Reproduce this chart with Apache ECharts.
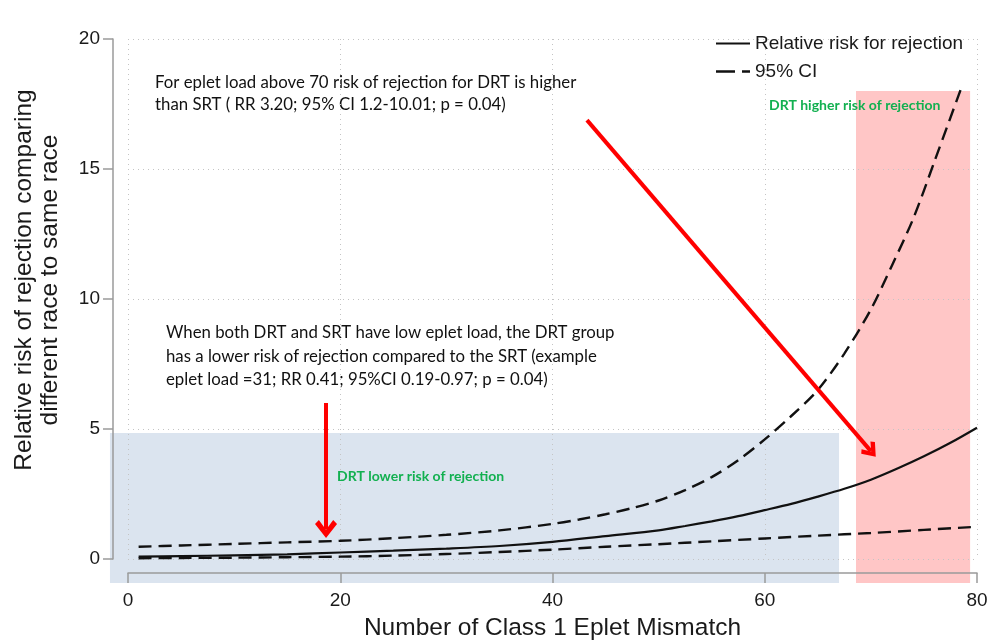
<!DOCTYPE html>
<html>
<head>
<meta charset="utf-8">
<script src="https://cdn.jsdelivr.net/npm/echarts@6/dist/echarts.min.js"></script>
<style>html,body{margin:0;padding:0;background:#fff}#c{width:989px;height:640px}</style>
</head>
<body>
<div id="c"></div>
<script>
// ---- data ----
const rrX = [1, 5, 10, 15, 20, 25, 30, 35, 40, 45, 50, 52.5, 55, 57.5, 60, 62.5, 65, 67.5, 70, 72.5, 75, 77.5, 80];
const rrY = [0.09, 0.11, 0.14, 0.18, 0.25, 0.32, 0.40, 0.50, 0.66, 0.88, 1.10, 1.27, 1.45, 1.65, 1.88, 2.12, 2.40, 2.70, 3.05, 3.48, 3.95, 4.47, 5.05];
const upX = [1, 5, 10, 15, 20, 25, 30, 35, 40, 42.5, 45, 47.5, 50, 52.5, 55, 57.5, 60, 62.5, 65, 67.5, 70, 72, 74, 76, 78.5];
const upY = [0.47, 0.52, 0.58, 0.64, 0.70, 0.80, 0.93, 1.10, 1.35, 1.52, 1.72, 1.96, 2.25, 2.65, 3.15, 3.80, 4.60, 5.50, 6.50, 7.90, 9.60, 11.30, 13.10, 15.30, 18.10];
const loX = [1, 5, 10, 15, 20, 25, 30, 35, 40, 45, 50, 55, 60, 65, 70, 75, 80];
const loY = [0.03, 0.04, 0.05, 0.07, 0.09, 0.13, 0.19, 0.27, 0.36, 0.47, 0.57, 0.68, 0.79, 0.90, 1.00, 1.12, 1.24];
const xTicks = [0, 20, 40, 60, 80];
const yTicks = [0, 5, 10, 15, 20];
// shaded regions: [x0, x1, y0, y1]
const lowerRegion = [-1.7, 67.0, -0.92, 4.85];
const higherRegion = [68.6, 79.35, -0.92, 18.0];
// arrows: [[xStart, yStart], [xEnd, yEnd]] in data units
const arrowHigh = [[43.25, 16.88], [70.0, 4.15]];
const arrowLow = [[18.66, 6.0], [18.66, 1.15]];

const pairs = (xs, ys) => xs.map((x, i) => [x, ys[i]]);
const AX = 'Liberation Sans, Arial, sans-serif';
const NOTE = 'Lato, Carlito, Calibri, sans-serif';
const chevron = 'path://M10,0 L20,11 L16.5,14 L10,6.5 L3.5,14 L0,11 Z';
const solidIcon = 'path://M0,0 H34 V2.2 H0 Z';
const dashIcon = 'path://M0,0 H19 V2.4 H0 Z M26,0 H34 V2.4 H26 Z';

const chart = echarts.init(document.getElementById('c'));
chart.setOption({
  animation: false,
  color: ['#111'],
  grid: { left: 128, right: 12, top: 39, bottom: 81, containLabel: false, outerBoundsMode: 'none' },
  xAxis: {
    type: 'value', min: 0, max: 80, interval: 20, offset: 14,
    axisLine: { onZero: false, lineStyle: { color: '#9a9a9a', width: 1.5 } },
    axisTick: { length: 10, lineStyle: { color: '#9a9a9a', width: 1.5 } },
    axisLabel: { margin: 18, fontSize: 19, color: '#1a1a1a', fontFamily: AX,
      formatter: v => xTicks.includes(v) ? String(v) : '' },
    splitLine: { show: true, lineStyle: { color: '#c4c4c4', type: [1, 4], width: 1 } },
    name: 'Number of Class 1 Eplet Mismatch', nameLocation: 'middle', nameGap: 43,
    nameTextStyle: { fontSize: 24.5, color: '#1a1a1a', fontFamily: AX }
  },
  yAxis: {
    type: 'value', min: 0, max: 20, interval: 5, offset: 15,
    axisLine: { show: true, onZero: false, lineStyle: { color: '#9a9a9a', width: 1.5 } },
    axisTick: { show: true, length: 10, lineStyle: { color: '#9a9a9a', width: 1.5 } },
    axisLabel: { margin: 13, fontSize: 19, color: '#1a1a1a', fontFamily: AX,
      formatter: v => yTicks.includes(v) ? String(v) : '' },
    splitLine: { show: true, lineStyle: { color: '#c4c4c4', type: [1, 4], width: 1 } }
  },
  legend: {
    orient: 'vertical', left: 711, top: 29, itemWidth: 34, itemHeight: 18, itemGap: 9,
    selectedMode: false,
    data: [
      { name: 'Relative risk for rejection', icon: solidIcon, itemStyle: { color: '#111' } },
      { name: '95% CI', icon: dashIcon, itemStyle: { color: '#111' } }
    ],
    textStyle: { fontSize: 19, color: '#1a1a1a', fontFamily: AX }
  },
  series: [
    {
      type: 'custom', name: 'regions', z: -1, clip: false, silent: true,
      data: [lowerRegion, higherRegion],
      encode: { x: [0, 1], y: [2, 3] },
      renderItem: (params, api) => {
        const p0 = api.coord([api.value(0), api.value(3)]);
        const p1 = api.coord([api.value(1), api.value(2)]);
        return { type: 'rect',
          shape: { x: p0[0], y: p0[1], width: p1[0] - p0[0], height: p1[1] - p0[1] },
          style: { fill: params.dataIndex === 0 ? '#dbe4ef' : '#ffc6c6' } };
      }
    },
    {
      type: 'line', name: 'Relative risk for rejection', data: pairs(rrX, rrY),
      smooth: 0.3, symbol: 'none', silent: true,
      itemStyle: { color: '#111' },
      lineStyle: { color: '#111', width: 2.2 },
      markLine: {
        silent: true, symbol: ['none', chevron], symbolSize: [18, 15],
        label: { show: false },
        lineStyle: { color: '#ff0000', width: 4, type: 'solid' },
        data: [
          [{ coord: arrowHigh[0] }, { coord: arrowHigh[1] }],
          [{ coord: arrowLow[0] }, { coord: arrowLow[1], symbolSize: [22, 18] }]
        ]
      }
    },
    {
      type: 'line', name: '95% CI', data: pairs(upX, upY),
      smooth: 0.3, symbol: 'none', silent: true,
      itemStyle: { color: '#111' },
      lineStyle: { color: '#111', width: 2.4, type: [13, 7] }
    },
    {
      type: 'line', name: '95% CI', data: pairs(loX, loY),
      smooth: 0.3, symbol: 'none', silent: true,
      itemStyle: { color: '#111' },
      lineStyle: { color: '#111', width: 2.4, type: [13, 7] }
    }
  ],
  graphic: [
    { type: 'text', x: 37, y: 280, rotation: Math.PI / 2, silent: true,
      style: { text: 'Relative risk of rejection comparing\ndifferent race to same race',
        font: '24.5px ' + AX, fill: '#1a1a1a', align: 'center', verticalAlign: 'middle', lineHeight: 26 } },
    { type: 'text', left: 155, top: 71, silent: true,
      style: { text: 'For eplet load above 70 risk of rejection for DRT is higher\nthan SRT ( RR 3.20; 95% CI 1.2-10.01; p = 0.04)',
        font: '16.8px ' + NOTE, fill: '#111', lineHeight: 22.5 } },
    { type: 'text', left: 166, top: 321, silent: true,
      style: { text: 'When both DRT and SRT have low eplet load, the DRT group\nhas a lower risk of rejection compared to the SRT (example\neplet load =31; RR 0.41; 95%CI 0.19-0.97; p = 0.04)',
        font: '16.8px ' + NOTE, fill: '#111', lineHeight: 23.5 } },
    { type: 'text', left: 769, top: 98, silent: true,
      style: { text: 'DRT higher risk of rejection', font: 'bold 14px ' + NOTE, fill: '#12b050' } },
    { type: 'text', left: 337, top: 469, silent: true,
      style: { text: 'DRT lower risk of rejection', font: 'bold 14px ' + NOTE, fill: '#12b050' } }
  ]
});
</script>
</body>
</html>
